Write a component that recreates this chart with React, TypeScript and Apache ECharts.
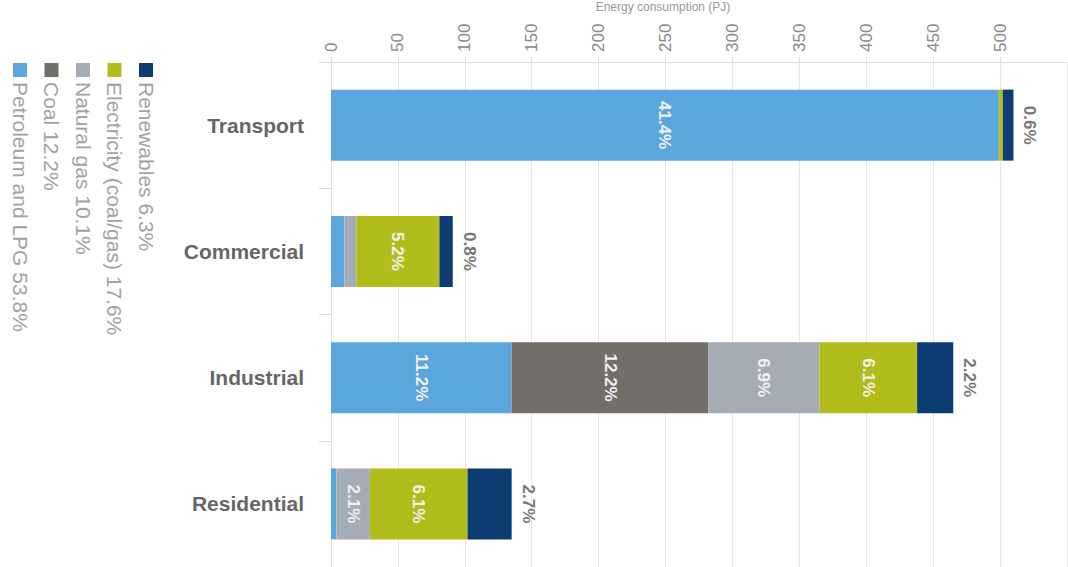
import React, { useEffect, useRef } from "react";
import * as echarts from "echarts";

const categories = ["Transport", "Commercial", "Industrial", "Residential"];
const seriesNames = ["Petroleum and LPG", "Coal", "Natural gas", "Electricity (coal/gas)", "Renewables"];
const shares = ["53.8%", "12.2%", "10.1%", "17.6%", "6.3%"];
const petroleum = [499, 10, 135, 4];
const coal = [0, 0, 147, 0];
const naturalGas = [0, 9, 83, 25];
const electricity = [3, 62, 73, 73];
const renewables = [8, 10, 27, 33];
const petroleumLabels = ["41.4%", "", "11.2%", ""];
const coalLabels = ["", "", "12.2%", ""];
const naturalGasLabels = ["", "", "6.9%", "2.1%"];
const electricityLabels = ["", "5.2%", "6.1%", "6.1%"];
const renewablesLabels = ["0.6%", "0.8%", "2.2%", "2.7%"];
const axisTitle = "Energy consumption (PJ)";

const colors = ["#5BA6DD", "#726E69", "#A5ACB3", "#B2BC1A", "#0D3C73"];
const FONT = "'Liberation Sans', Arial, sans-serif";

export default function App() {
  const ref = useRef<HTMLDivElement>(null);
  useEffect(() => {
    if (!ref.current) return;
    const chart = echarts.init(ref.current, undefined, { renderer: "svg" });
    const values = [petroleum, coal, naturalGas, electricity, renewables];
    const labels = [petroleumLabels, coalLabels, naturalGasLabels, electricityLabels, renewablesLabels];

    const series: any[] = values.map((v, i) => {
      const isLast = i === values.length - 1;
      return {
        name: seriesNames[i],
        type: "bar",
        stack: "total",
        data: v,
        barWidth: 71,
        itemStyle: { color: colors[i] },
        label: isLast
          ? {
              show: true,
              position: "right",
              distance: 8,
              rotate: -90,
              align: "center",
              verticalAlign: "bottom",
              color: "#777",
              fontWeight: "bold",
              fontSize: 17,
              fontFamily: FONT,
              formatter: (p: any) => labels[i][p.dataIndex],
            }
          : {
              show: true,
              position: "inside",
              rotate: -90,
              color: "#f2f2f2",
              fontWeight: "bold",
              fontSize: 17,
              fontFamily: FONT,
              formatter: (p: any) => labels[i][p.dataIndex],
            },
      };
    });

    // Legend drawn as rotated columns (right to left)
    const legendOrder = [4, 3, 2, 1, 0];
    const legendGraphics: any[] = [];
    legendOrder.forEach((si, k) => {
      const cx = 146 - k * 31.5;
      legendGraphics.push({
        type: "rect",
        shape: { x: cx - 7, y: 63, width: 14, height: 14 },
        style: { fill: colors[si] },
      });
      legendGraphics.push({
        type: "text",
        x: cx,
        y: 82,
        rotation: -Math.PI / 2,
        style: {
          text: seriesNames[si] + " " + shares[si],
          fill: "#a2a2a2",
          font: `21px ${FONT}`,
          align: "left",
          verticalAlign: "middle",
        },
      });
    });
    legendGraphics.push({
      type: "text",
      x: 663,
      y: 1,
      style: {
        text: axisTitle,
        fill: "#999",
        font: `12px ${FONT}`,
        align: "center",
        verticalAlign: "top",
      },
    });

    chart.setOption({
      animation: false,
      backgroundColor: "#fff",
      grid: { left: 331, right: 1, top: 62, bottom: -3, containLabel: false },
      xAxis: {
        type: "value",
        position: "top",
        min: 0,
        max: 550,
        interval: 50,
        axisLine: { show: true, lineStyle: { color: "#e0e0e0" } },
        axisTick: { show: true, length: 5, lineStyle: { color: "#e0e0e0" } },
        splitLine: { show: true, lineStyle: { color: "#e6e6e6" } },
        axisLabel: {
          rotate: -90,
          color: "#888",
          fontSize: 17,
          fontFamily: FONT,
          margin: 10,
          showMaxLabel: false,
        },
      },
      yAxis: {
        type: "category",
        data: categories,
        inverse: true,
        axisLine: { show: true, lineStyle: { color: "#e0e0e0" } },
        axisTick: { show: true, length: 12, lineStyle: { color: "#dcdcdc" } },
        axisLabel: {
          color: "#666",
          fontWeight: "bold",
          fontSize: 21,
          fontFamily: FONT,
          margin: 27,
        },
      },
      graphic: legendGraphics,
      series,
    });
    return () => chart.dispose();
  }, []);
  return (
    <div
      ref={ref}
      style={{ position: "fixed", left: 0, top: 0, width: 1068, height: 567 }}
    />
  );
}
